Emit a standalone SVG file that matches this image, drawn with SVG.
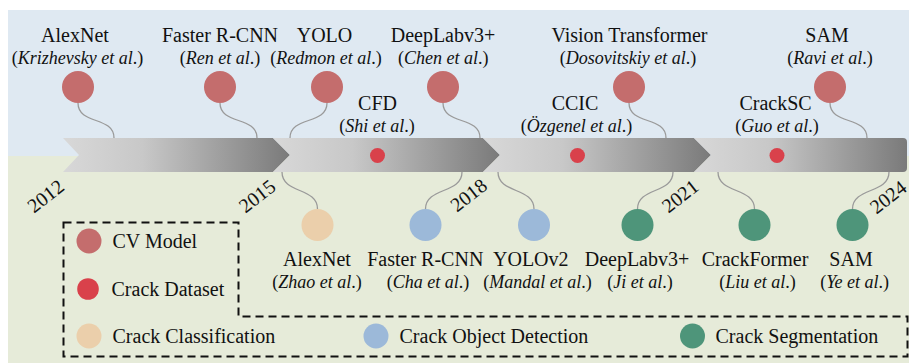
<svg xmlns="http://www.w3.org/2000/svg" width="909" height="363" viewBox="0 0 909 363">
<defs>
<linearGradient id="seg" x1="0" y1="0" x2="1" y2="0">
<stop offset="0" stop-color="#d8d8d8"/>
<stop offset="0.35" stop-color="#c8c8c8"/>
<stop offset="1" stop-color="#7a7a7a"/>
</linearGradient>
<style>
text{font-family:"Liberation Serif","Times New Roman","DejaVu Serif",serif;fill:#111;}
.t{font-size:20px;text-anchor:middle;}
.s{font-size:18px;text-anchor:middle;}
.y{font-size:20px;text-anchor:middle;}
.lg{font-size:20px;}
.i{font-style:italic;}
.cv{fill:#c46d6d;}
.ds{fill:#d9414b;}
.cl{fill:#ebcfab;}
.od{fill:#9cb9d9;}
.sg{fill:#4e957a;}
.conn path{fill:none;stroke:#9a9a9a;stroke-width:1.3;}
.band{fill:url(#seg);}
</style>
</defs>
<rect x="8" y="10" width="901" height="146" fill="#dfe9f2"/>
<rect x="8" y="156" width="901" height="207" fill="#e6ebd9"/>

<g id="connectors" class="conn">
<path d="M78,103 C78,125 114,116 114,138"/>
<path d="M220,103 C220,125 257,116 257,138"/>
<path d="M327,103 C327,125 290,116 290,138"/>
<path d="M443,103 C443,125 480,116 480,138"/>
<path d="M629,103 C629,125 666,116 666,138"/>
<path d="M830,103 C830,125 867,116 867,138"/>
<path d="M282,172 C282,194 317.5,187 317.5,209"/>
<path d="M462,172 C462,194 425.5,187 425.5,209"/>
<path d="M498,172 C498,194 534,187 534,209"/>
<path d="M673,172 C673,194 637.5,187 637.5,209"/>
<path d="M718,172 C718,194 754.5,187 754.5,209"/>
<path d="M889,172 C889,194 852.5,187 852.5,209"/>
</g>

<g id="timeline">
<polygon class="band" points="63,138 273,138 290,155 273,172 63,172 79,155"/>
<polygon class="band" points="273,138 483,138 500,155 483,172 273,172 290,155"/>
<polygon class="band" points="483,138 694,138 711,155 694,172 483,172 500,155"/>
<path class="band" d="M694,138 H903 Q907,138 907,142 V168 Q907,172 903,172 H694 L711,155 Z"/>
<text class="y" transform="translate(45.5,196) rotate(-38)" y="7">2012</text>
<text class="y" transform="translate(257,196) rotate(-38)" y="7">2015</text>
<text class="y" transform="translate(468.5,195) rotate(-38)" y="7">2018</text>
<text class="y" transform="translate(680,196) rotate(-38)" y="7">2021</text>
<text class="y" transform="translate(888,197) rotate(-38)" y="7">2024</text>
</g>

<g id="alexnet-top"><circle class="cv" cx="78" cy="87" r="16"/><text class="t" x="75" y="42">AlexNet</text><text class="s" x="77.5" y="64">(<tspan class="i">Krizhevsky et al</tspan>.)</text></g>
<g id="fasterrcnn-top"><circle class="cv" cx="220" cy="87" r="16"/><text class="t" x="220" y="42">Faster R-CNN</text><text class="s" x="220" y="64">(<tspan class="i">Ren et al</tspan>.)</text></g>
<g id="yolo-top"><circle class="cv" cx="327" cy="87" r="16"/><text class="t" x="324.5" y="42">YOLO</text><text class="s" x="326" y="64">(<tspan class="i">Redmon et al</tspan>.)</text></g>
<g id="deeplab-top"><circle class="cv" cx="443" cy="87" r="16"/><text class="t" x="443" y="42">DeepLabv3+</text><text class="s" x="443.3" y="64">(<tspan class="i">Chen et al</tspan>.)</text></g>
<g id="vit-top"><circle class="cv" cx="629" cy="87" r="16"/><text class="t" x="629.5" y="42">Vision Transformer</text><text class="s" x="628" y="64">(<tspan class="i">Dosovitskiy et al</tspan>.)</text></g>
<g id="sam-top"><circle class="cv" cx="830" cy="87" r="16"/><text class="t" x="827" y="42">SAM</text><text class="s" x="830" y="64">(<tspan class="i">Ravi et al</tspan>.)</text></g>

<g id="cfd"><circle class="ds" cx="377.5" cy="155.5" r="7.5"/><text class="t" x="377.5" y="110">CFD</text><text class="s" x="377" y="132">(<tspan class="i">Shi et al</tspan>.)</text></g>
<g id="ccic"><circle class="ds" cx="577.5" cy="155.5" r="7.5"/><text class="t" x="575" y="110">CCIC</text><text class="s" x="576.5" y="132">(<tspan class="i">Özgenel et al</tspan>.)</text></g>
<g id="cracksc"><circle class="ds" cx="777" cy="155.5" r="7.5"/><text class="t" x="775.5" y="110">CrackSC</text><text class="s" x="777" y="132">(<tspan class="i">Guo et al</tspan>.)</text></g>

<g id="alexnet-bottom"><circle class="cl" cx="317.5" cy="225" r="16"/><text class="t" x="317" y="266">AlexNet</text><text class="s" x="317" y="288">(<tspan class="i">Zhao et al</tspan>.)</text></g>
<g id="fasterrcnn-bottom"><circle class="od" cx="425.5" cy="225" r="16"/><text class="t" x="425.3" y="266">Faster R-CNN</text><text class="s" x="428" y="288">(<tspan class="i">Cha et al</tspan>.)</text></g>
<g id="yolov2-bottom"><circle class="od" cx="534" cy="225" r="16"/><text class="t" x="530.8" y="266">YOLOv2</text><text class="s" x="537.5" y="288">(<tspan class="i">Mandal et al</tspan>.)</text></g>
<g id="deeplab-bottom"><circle class="sg" cx="637.5" cy="225" r="16"/><text class="t" x="637" y="266">DeepLabv3+</text><text class="s" x="640" y="288">(<tspan class="i">Ji et al</tspan>.)</text></g>
<g id="crackformer-bottom"><circle class="sg" cx="754.5" cy="225" r="16"/><text class="t" x="755" y="266">CrackFormer</text><text class="s" x="757.5" y="288">(<tspan class="i">Liu et al</tspan>.)</text></g>
<g id="sam-bottom"><circle class="sg" cx="852.5" cy="225" r="16"/><text class="t" x="851" y="266">SAM</text><text class="s" x="854.7" y="288">(<tspan class="i">Ye et al</tspan>.)</text></g>

<g id="legend">
<path d="M63.5,222.5 H238.5 V316.5 H907.5 V356.5 H63.5 Z" fill="none" stroke="#111" stroke-width="2" stroke-dasharray="8,5"/>
<circle class="cv" cx="89" cy="241" r="12.5"/><text class="lg" x="112.5" y="248">CV Model</text>
<circle class="ds" cx="88" cy="289" r="10.8"/><text class="lg" x="111.5" y="296">Crack Dataset</text>
<circle class="cl" cx="89" cy="336" r="12.5"/><text class="lg" x="112.5" y="343">Crack Classification</text>
<circle class="od" cx="376" cy="336" r="12.5"/><text class="lg" x="399.5" y="343">Crack Object Detection</text>
<circle class="sg" cx="692.5" cy="336" r="12.5"/><text class="lg" x="715.5" y="343">Crack Segmentation</text>
</g>
</svg>
